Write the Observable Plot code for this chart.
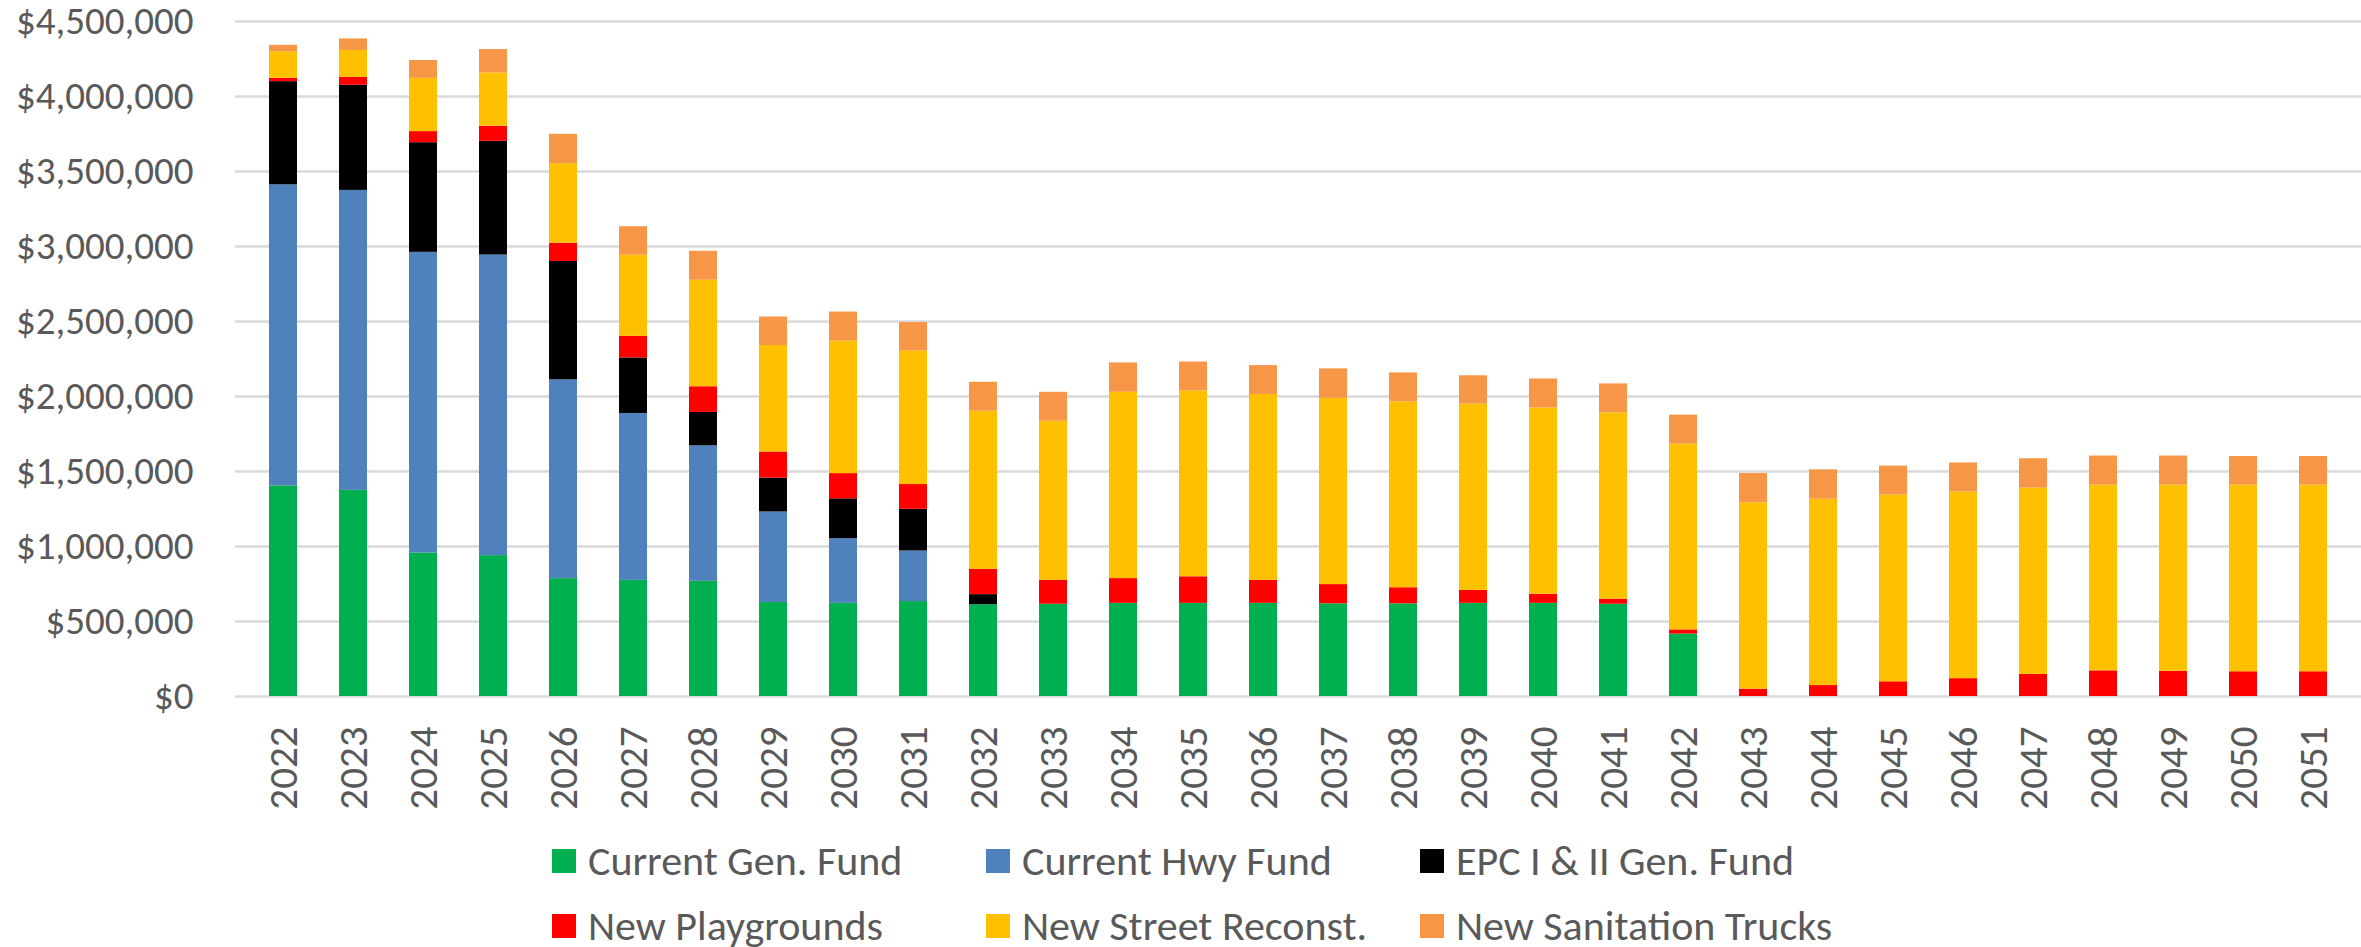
<!DOCTYPE html>
<html>
<head>
<meta charset="utf-8">
<script src="https://cdn.jsdelivr.net/npm/d3@7"></script>
<script src="https://cdn.jsdelivr.net/npm/@observablehq/plot@0.6"></script>
<style>
  html, body { margin: 0; padding: 0; background: #fff; }
  body { width: 2361px; height: 947px; overflow: hidden; font-family: Calibri, Carlito, Roboto, sans-serif; }
  #chart svg { display: block; }
  #legend { display: grid; grid-template-columns: 434px 434px 434px; row-gap: 25px; padding-left: 552px; margin-top: 11px; }
  .item { display: flex; align-items: center; font-size: 42px; line-height: 40px; color: #595959; height: 40px; white-space: nowrap; }
  .sw { width: 24px; height: 24px; margin-right: 12px; flex: none; }
</style>
</head>
<body>
<div id="chart"></div>
<div id="legend"></div>
<script>
const years = ["2022","2023","2024","2025","2026","2027","2028","2029","2030","2031","2032","2033","2034","2035","2036","2037","2038","2039","2040","2041","2042","2043","2044","2045","2046","2047","2048","2049","2050","2051"];
const seriesNames = ["Current Gen. Fund", "Current Hwy Fund", "EPC I & II Gen. Fund", "New Playgrounds", "New Street Reconst.", "New Sanitation Trucks"];
const seriesColors = ["#00B050", "#4F81BD", "#000000", "#FF0000", "#FFC000", "#F79646"];
const currentGenFund = [1404000, 1374000, 957000, 939000, 786000, 774000, 768000, 627000, 621000, 633000, 612000, 615000, 621000, 621000, 621000, 618000, 618000, 621000, 621000, 615000, 416000, 0, 0, 0, 0, 0, 0, 0, 0, 0];
const currentHwyFund = [2007000, 2000000, 2004000, 2004000, 1325000, 1113000, 903000, 603000, 431000, 337000, 0, 0, 0, 0, 0, 0, 0, 0, 0, 0, 0, 0, 0, 0, 0, 0, 0, 0, 0, 0];
const epcGenFund = [688000, 701000, 731000, 758000, 789000, 370000, 223000, 226000, 266000, 278000, 67000, 0, 0, 0, 0, 0, 0, 0, 0, 0, 0, 0, 0, 0, 0, 0, 0, 0, 0, 0];
const newPlaygrounds = [22000, 52000, 74000, 101000, 122000, 144000, 171000, 174000, 168000, 165000, 168000, 159000, 165000, 177000, 153000, 128000, 107000, 86000, 61000, 34000, 28000, 49000, 73000, 98000, 119000, 147000, 171000, 168000, 165000, 165000];
const newStreetReconst = [177000, 180000, 355000, 355000, 530000, 541000, 710000, 710000, 884000, 890000, 1055000, 1061000, 1242000, 1239000, 1239000, 1242000, 1239000, 1242000, 1242000, 1242000, 1239000, 1242000, 1242000, 1245000, 1245000, 1242000, 1239000, 1242000, 1245000, 1245000];
const newSanitationTrucks = [43000, 77000, 119000, 156000, 196000, 190000, 193000, 190000, 193000, 190000, 193000, 193000, 196000, 193000, 193000, 196000, 193000, 189000, 193000, 193000, 193000, 196000, 196000, 193000, 193000, 196000, 193000, 193000, 190000, 190000];
const yTicks = [0, 500000, 1000000, 1500000, 2000000, 2500000, 3000000, 3500000, 4000000, 4500000];

const seriesValues = [currentGenFund, currentHwyFund, epcGenFund, newPlaygrounds, newStreetReconst, newSanitationTrucks];
const data = [];
seriesNames.forEach((name, si) => {
  years.forEach((yr, i) => data.push({year: yr, series: name, value: seriesValues[si][i]}));
});

const fontFamily = "Calibri, Carlito, Roboto, sans-serif";
const chart = Plot.plot({
  width: 2361,
  height: 830,
  marginTop: 21,
  marginBottom: 134,
  marginLeft: 235,
  marginRight: 0,
  style: {fontSize: "39px", fontFamily, color: "#595959", background: "#fff"},
  x: {domain: years, padding: 0.6, paddingOuter: 0.3},
  y: {domain: [0, 4500000]},
  color: {domain: seriesNames, range: seriesColors},
  marks: [
    Plot.ruleY(yTicks, {stroke: "#d9d9d9", strokeWidth: 2.5}),
    Plot.barY(data, {x: "year", y: "value", z: "series", fill: "series", order: seriesNames}),
    Plot.axisY({ticks: yTicks, tickSize: 0, tickPadding: 42, tickFormat: d => "$" + d3.format(",")(d), label: null, fill: "#595959", fontSize: 39}),
    Plot.axisX({tickSize: 0, tickPadding: 30, tickRotate: -90, label: null, fill: "#595959", fontSize: 41})
  ]
});
document.getElementById("chart").appendChild(chart);

const legend = document.getElementById("legend");
seriesNames.forEach((name, i) => {
  const item = document.createElement("div");
  item.className = "item";
  const sw = document.createElement("span");
  sw.className = "sw";
  sw.style.background = seriesColors[i];
  const label = document.createElement("span");
  label.textContent = name;
  item.appendChild(sw);
  item.appendChild(label);
  legend.appendChild(item);
});
</script>
</body>
</html>
